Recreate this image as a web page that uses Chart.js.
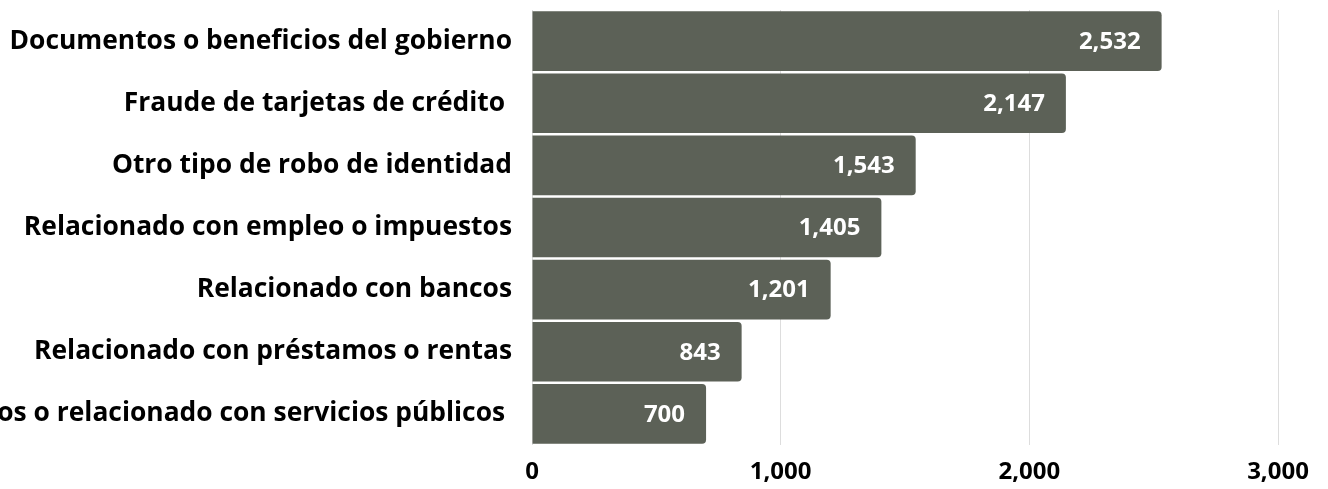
<!DOCTYPE html>
<html>
<head>
<meta charset="utf-8">
<script src="https://cdn.jsdelivr.net/npm/chart.js@4"></script>
<style>
  body{margin:0;background:#fff;}
  #wrap{width:1328px;height:489px;position:relative;}
</style>
</head>
<body>
<div id="wrap"><canvas id="my_canvas"></canvas></div>
<script>
const the_categories = [
    'Documentos o beneficios del gobierno',
    'Fraude de tarjetas de crédito ',
    'Otro tipo de robo de identidad',
    'Relacionado con empleo o impuestos',
    'Relacionado con bancos',
    'Relacionado con préstamos o rentas',
    'Teléfonos o relacionado con servicios públicos '
];
const the_reports = [2532, 2147, 1543, 1405, 1201, 843, 700];
const the_ticks = [0, 1000, 2000, 3000];

const barColor = '#5c6157';
const fontName = "'Open Sans', sans-serif";

// white value labels at the end of each bar
const valueLabels = {
    id:'valueLabels',
    afterDatasetsDraw(chart){
        const ctx = chart.ctx;
        const meta = chart.getDatasetMeta(0);
        ctx.save();
        ctx.fillStyle = '#ffffff';
        ctx.font = 'bold 24px ' + fontName;
        ctx.textAlign = 'right';
        ctx.textBaseline = 'middle';
        meta.data.forEach((bar, i) => {
            ctx.fillText(the_reports[i].toLocaleString('en-US'), bar.x - 21, bar.y + 1);
        });
        ctx.restore();
    }
};

const canvas_element = document.getElementById('my_canvas').getContext('2d');

const the_chart = new Chart(canvas_element,{
    type:'bar',
    data:{
        labels:the_categories,
        datasets:[{
            data:the_reports,
            backgroundColor:barColor,
            borderWidth:0,
            borderRadius:4,
            borderSkipped:'start',
            barPercentage:0.96,
            categoryPercentage:1
        }]
    },
    plugins:[valueLabels],
    options:{
        indexAxis:'y',
        responsive:true,
        maintainAspectRatio:false,
        animation:false,
        layout:{padding:{top:10, right:50, bottom:0, left:0}},
        plugins:{
            legend:{display:false},
            tooltip:{enabled:false}
        },
        scales:{
            x:{
                min:0,
                max:3000,
                afterBuildTicks(scale){
                    scale.ticks = the_ticks.map(v => ({value:v}));
                },
                afterFit(scale){ scale.height = 44; },
                grid:{
                    color:'#dddddd',
                    drawTicks:false
                },
                border:{display:false},
                ticks:{
                    padding:13,
                    color:'#000',
                    font:{family:fontName, size:24, weight:'bold'},
                    callback:(v) => v.toLocaleString('en-US')
                }
            },
            y:{
                afterFit(scale){
                    scale.width = 532;
                    scale.paddingTop = 0;
                    scale.paddingBottom = 0;
                },
                grid:{display:false},
                border:{display:false},
                ticks:{
                    padding:12,
                    color:'#000',
                    font:{family:fontName, size:26.4, weight:'bold'}
                }
            }
        }
    }
});
</script>
</body>
</html>
